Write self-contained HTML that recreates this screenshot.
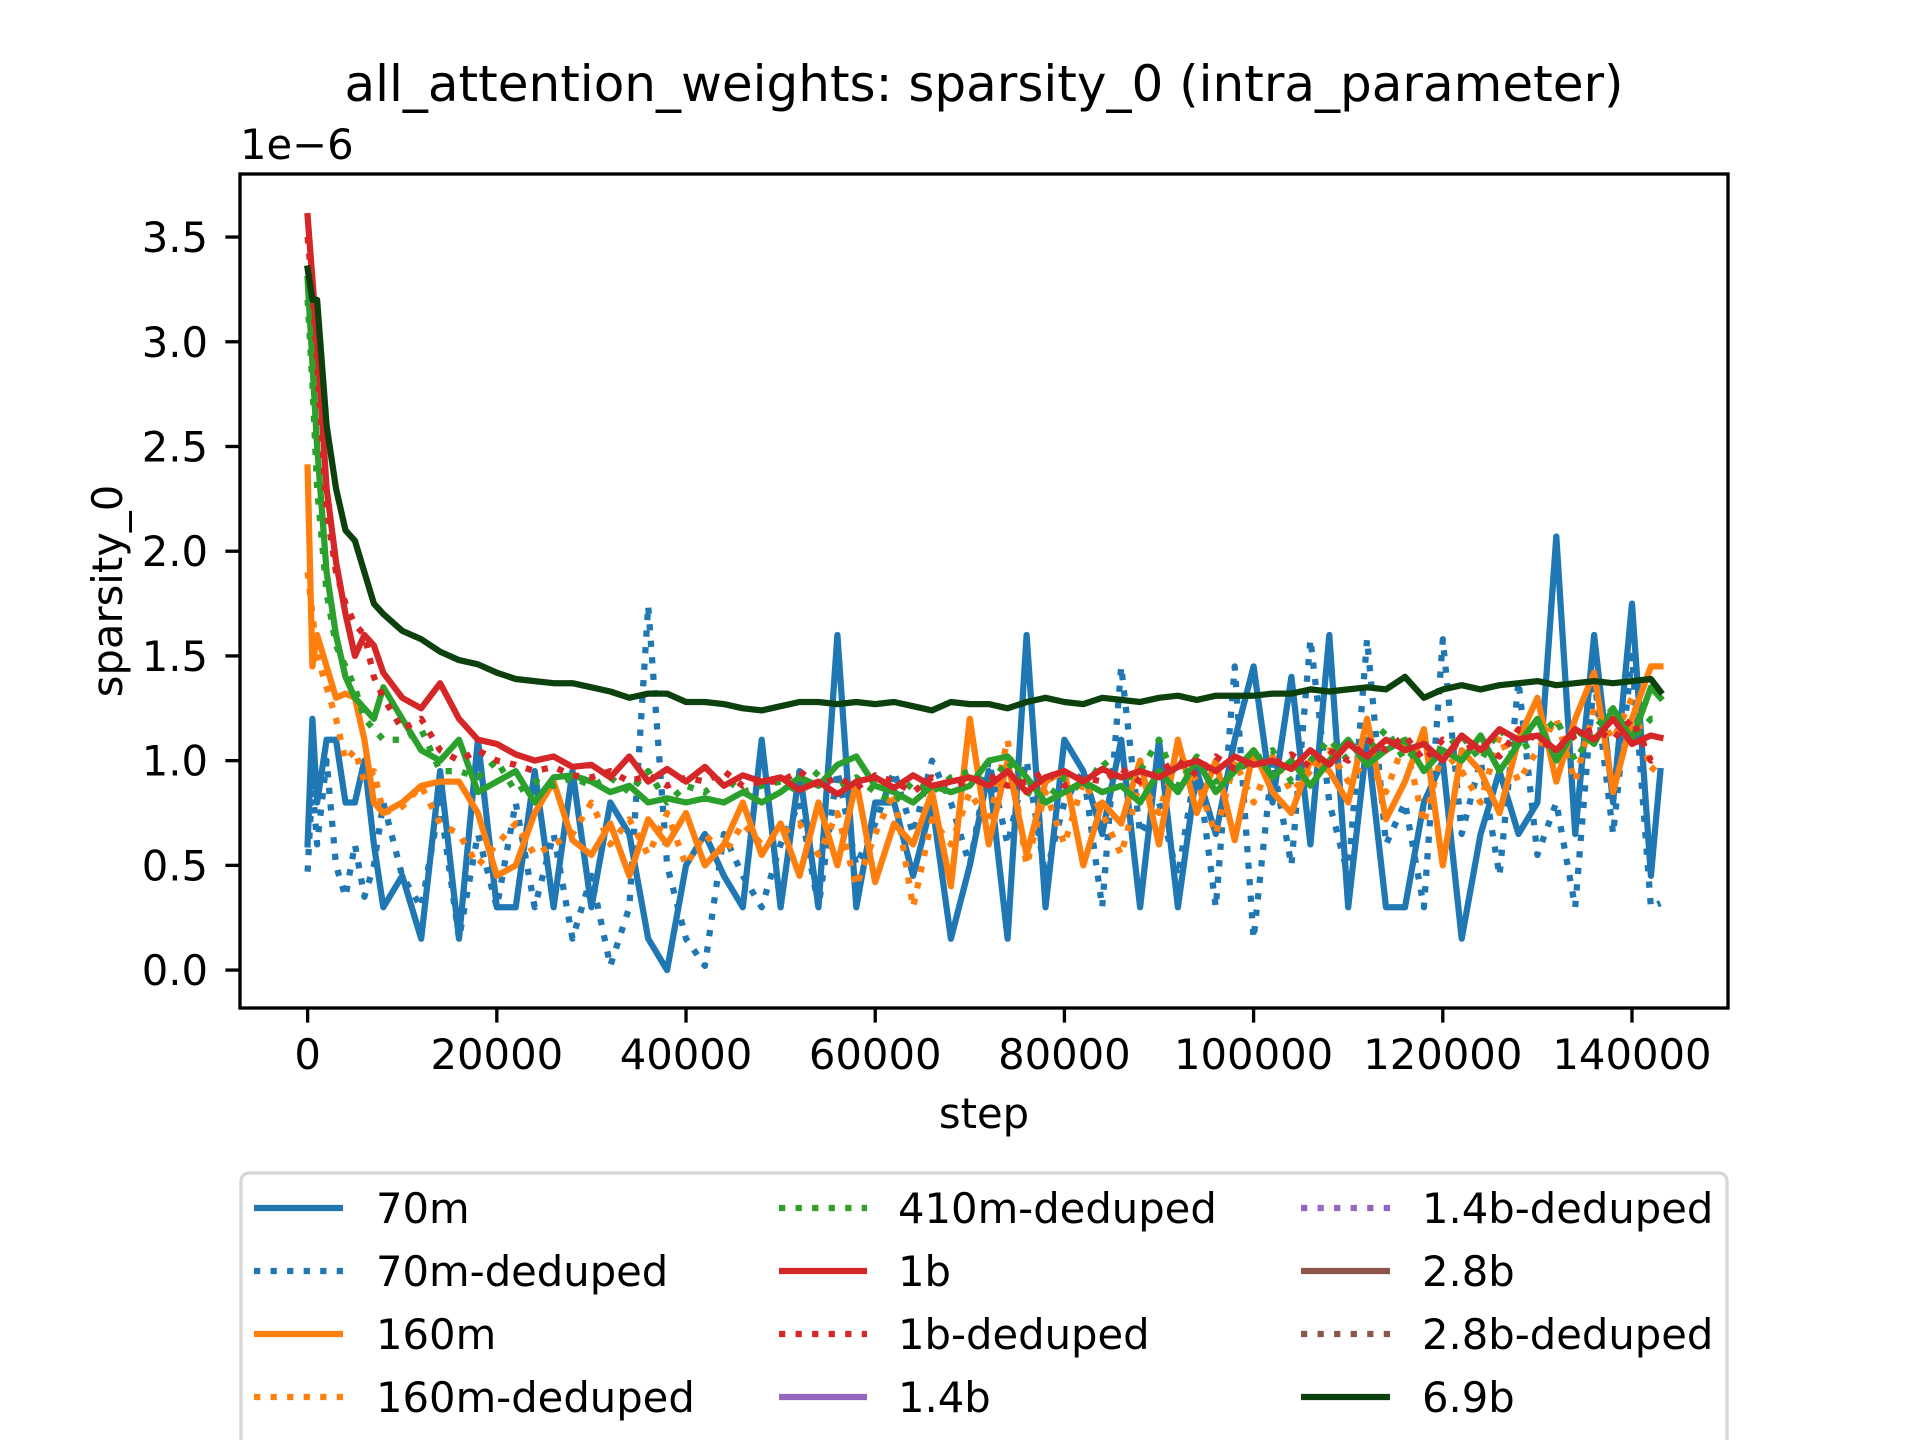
<!DOCTYPE html>
<html><head><meta charset="utf-8">
<style>
html,body{margin:0;padding:0;background:#fff;}
svg{display:block;}
text{font-family:"DejaVu Sans","Liberation Sans",sans-serif;fill:#000;}
</style></head>
<body>
<svg id="chart" width="1920" height="1440" viewBox="0 0 1920 1440" xmlns="http://www.w3.org/2000/svg">
<rect x="0" y="0" width="1920" height="1440" fill="#fff"/>
<text x="984" y="101" font-size="50" text-anchor="middle">all_attention_weights: sparsity_0 (intra_parameter)</text>
<text x="240" y="159" font-size="41.7">1e−6</text>
<g id="plot"></g>
<g id="axes"></g>
<text x="984" y="1128" font-size="41.7" text-anchor="middle">step</text>
<text transform="translate(122,591) rotate(-90)" font-size="41.7" text-anchor="middle">sparsity_0</text>
<g id="legend"></g>
</svg>
<script>
// ---- data ----
const steps = [0,500,1000,2000,3000,4000,5000,6000,7000,8000,
10000,12000,14000,16000,18000,20000,22000,24000,26000,28000,
30000,32000,34000,36000,38000,40000,42000,44000,46000,48000,
50000,52000,54000,56000,58000,60000,62000,64000,66000,68000,
70000,72000,74000,76000,78000,80000,82000,84000,86000,88000,
90000,92000,94000,96000,98000,100000,102000,104000,106000,108000,
110000,112000,114000,116000,118000,120000,122000,124000,126000,128000,
130000,132000,134000,136000,138000,140000,142000,143000];

const v70m = [0.6,1.2,0.8,1.1,1.1,0.8,0.8,1.0,0.6,0.3,
0.45,0.15,0.95,0.15,1.1,0.3,0.3,0.95,0.3,0.95,
0.3,0.8,0.65,0.15,0.0,0.5,0.65,0.45,0.3,1.1,
0.3,0.95,0.3,1.6,0.3,0.8,0.8,0.45,0.8,0.15,
0.5,0.95,0.15,1.6,0.3,1.1,0.95,0.65,1.1,0.3,
1.1,0.3,0.95,0.65,1.1,1.45,0.8,1.4,0.6,1.6,
0.3,1.1,0.3,0.3,0.8,1.0,0.15,0.65,0.95,0.65,
0.8,2.07,0.65,1.6,0.8,1.75,0.45,0.95];
const v70mDeduped = [0.47,0.9,0.6,1.0,0.5,0.35,0.6,0.35,0.5,0.8,
0.45,0.3,0.8,0.15,0.65,0.3,0.8,0.3,0.65,0.15,
0.45,0.02,0.3,1.74,0.5,0.15,0.02,0.65,0.45,0.3,
0.6,0.8,0.3,0.95,0.5,0.7,0.95,0.65,1.0,0.8,
0.5,1.0,0.6,1.0,0.45,0.8,0.95,0.3,1.45,0.65,
0.8,0.45,1.0,0.3,1.45,0.15,1.0,0.5,1.58,0.8,
0.45,1.58,0.6,0.8,0.3,1.58,0.65,1.0,0.45,1.38,
0.55,0.8,0.3,1.4,0.65,1.5,0.3,0.32];
const v160m = [2.4,1.45,1.6,1.45,1.3,1.32,1.3,1.1,0.8,0.75,
0.8,0.88,0.9,0.9,0.75,0.45,0.5,0.75,0.9,0.62,
0.55,0.7,0.45,0.72,0.6,0.75,0.5,0.6,0.8,0.55,
0.7,0.45,0.8,0.5,0.9,0.42,0.7,0.6,0.85,0.4,
1.2,0.6,1.0,0.55,0.9,0.95,0.5,0.8,0.7,1.0,
0.6,1.1,0.75,1.0,0.62,1.05,0.85,0.75,1.0,0.95,
0.8,1.2,0.72,0.9,1.15,0.5,1.05,0.95,0.75,1.1,
1.3,0.9,1.2,1.42,0.85,1.2,1.45,1.45];
const v160mDeduped = [1.9,1.7,1.5,1.35,1.2,1.0,1.05,0.9,0.95,0.75,
0.78,0.88,0.7,0.65,0.5,0.6,0.7,0.55,0.6,0.65,
0.8,0.6,0.72,0.55,0.75,0.5,0.65,0.55,0.7,0.6,
0.65,0.7,0.55,0.75,0.4,0.65,0.85,0.3,0.72,0.6,
0.85,0.7,1.1,0.5,0.85,0.6,0.9,0.75,0.55,0.9,
0.75,1.05,0.9,0.65,1.0,0.8,1.02,0.85,0.95,1.05,
0.9,1.0,0.85,1.1,0.7,1.05,0.95,0.8,1.12,0.9,
1.05,1.2,0.9,1.25,1.1,1.3,0.95,1.0];
const v410m = [3.3,2.9,2.5,1.9,1.6,1.4,1.3,1.25,1.2,1.35,
1.2,1.05,1.0,1.1,0.85,0.9,0.95,0.8,0.92,0.93,
0.9,0.85,0.88,0.8,0.82,0.8,0.82,0.8,0.85,0.8,
0.85,0.92,0.88,0.98,1.02,0.88,0.85,0.8,0.88,0.85,
0.88,1.0,1.02,0.92,0.8,0.85,0.9,0.85,0.88,0.8,
0.95,0.85,1.0,0.85,0.95,1.05,0.92,1.0,0.88,1.0,
1.1,0.98,1.05,1.1,0.95,1.05,1.0,1.12,0.95,1.08,
1.2,1.0,1.15,1.08,1.25,1.1,1.35,1.3];
const v410mDeduped = [3.2,2.8,2.3,1.8,1.55,1.45,1.35,1.2,1.15,1.1,
1.1,1.15,0.95,0.95,0.92,1.0,0.85,0.9,0.88,0.92,
0.88,0.92,0.85,0.95,0.8,0.88,0.85,0.92,0.85,0.88,
0.9,0.85,0.95,0.88,0.92,0.85,0.8,0.9,0.85,0.92,
0.95,0.88,1.0,0.85,0.8,0.92,0.85,1.0,0.9,0.95,
1.1,0.88,1.02,0.9,0.95,1.0,1.05,0.9,1.0,1.1,
1.0,1.05,1.15,1.0,1.08,1.05,1.12,1.0,1.15,1.05,
1.1,1.2,1.0,1.15,1.25,1.1,1.2,1.2];
const v1b = [3.6,3.3,3.0,2.3,1.95,1.7,1.5,1.6,1.55,1.42,
1.3,1.25,1.37,1.2,1.1,1.08,1.03,1.0,1.02,0.97,
0.98,0.92,1.02,0.9,0.96,0.9,0.97,0.88,0.93,0.9,
0.92,0.86,0.9,0.84,0.9,0.92,0.87,0.93,0.88,0.9,
0.92,0.88,0.95,0.85,0.92,0.95,0.9,0.96,0.92,0.95,
0.92,0.97,1.0,0.95,1.02,0.98,1.0,0.96,1.05,0.98,
1.08,1.02,1.1,1.05,1.08,1.0,1.12,1.05,1.15,1.1,
1.12,1.05,1.15,1.1,1.2,1.08,1.12,1.11];
const v1bDeduped = [3.5,3.25,2.9,2.2,1.9,1.75,1.65,1.6,1.4,1.3,
1.15,1.2,1.05,1.0,1.05,1.0,0.98,0.95,0.97,0.93,
0.92,0.95,0.9,0.93,0.88,0.92,0.9,0.95,0.88,0.9,
0.9,0.95,0.88,0.92,0.87,0.93,0.9,0.85,0.92,0.88,
0.9,0.93,0.88,0.9,0.95,0.88,0.92,0.9,0.96,0.9,
0.95,1.0,0.93,1.02,0.96,1.0,0.98,1.03,0.97,1.05,
1.0,1.1,1.05,1.12,1.0,1.1,1.05,1.08,1.02,1.15,
1.1,1.05,1.12,1.15,1.1,1.2,1.0,1.02];
const v6_9b = [3.35,3.2,3.2,2.6,2.3,2.1,2.05,1.9,1.75,1.7,
1.62,1.58,1.52,1.48,1.46,1.42,1.39,1.38,1.37,1.37,
1.35,1.33,1.3,1.32,1.32,1.28,1.28,1.27,1.25,1.24,
1.26,1.28,1.28,1.27,1.28,1.27,1.28,1.26,1.24,1.28,
1.27,1.27,1.25,1.28,1.3,1.28,1.27,1.3,1.29,1.28,
1.3,1.31,1.29,1.31,1.31,1.31,1.32,1.32,1.34,1.33,
1.34,1.35,1.34,1.4,1.3,1.34,1.36,1.34,1.36,1.37,
1.38,1.36,1.37,1.38,1.37,1.38,1.39,1.33];

const xTicks = [0,20000,40000,60000,80000,100000,120000,140000];
const xTickLabels = ["0","20000","40000","60000","80000","100000","120000","140000"];
const yTicks = [0,0.5,1.0,1.5,2.0,2.5,3.0,3.5];
const yTickLabels = ["0.0","0.5","1.0","1.5","2.0","2.5","3.0","3.5"];
const legendLabels = ["70m","70m-deduped","160m","160m-deduped","410m-deduped","1b","1b-deduped","1.4b","1.4b-deduped","2.8b","2.8b-deduped","6.9b"];

// ---- axes ----
const L=240,R=1728,T=174,B=1008;
const XMIN=-7150,XMAX=150150,YMIN=-0.181,YMAX=3.801;
function sx(v){return L+(v-XMIN)/(XMAX-XMIN)*(R-L);}
function sy(v){return B-(v-YMIN)/(YMAX-YMIN)*(B-T);}
const NS="http://www.w3.org/2000/svg";
function mk(tag,attrs,parent){const e=document.createElementNS(NS,tag);for(const k in attrs)e.setAttribute(k,attrs[k]);parent.appendChild(e);return e;}

const plot=document.getElementById('plot');
const series=[
 {name:"70m",v:v70m,c:"#1f77b4",d:false},
 {name:"70m-deduped",v:v70mDeduped,c:"#1f77b4",d:true},
 {name:"160m",v:v160m,c:"#ff7f0e",d:false},
 {name:"160m-deduped",v:v160mDeduped,c:"#ff7f0e",d:true},
 {name:"410m",v:v410m,c:"#2ca02c",d:false},
 {name:"410m-deduped",v:v410mDeduped,c:"#2ca02c",d:true},
 {name:"1b",v:v1b,c:"#d62728",d:false},
 {name:"1b-deduped",v:v1bDeduped,c:"#d62728",d:true},
 {name:"6.9b",v:v6_9b,c:"#0c400c",d:false}
];
series.forEach(s=>{
  const n=Math.min(s.v.length,steps.length);
  let p="";
  for(let i=0;i<n;i++){p+=(i?"L":"M")+sx(steps[i]).toFixed(1)+","+sy(s.v[i]).toFixed(1);}
  const path=mk('path',{d:p,fill:"none",stroke:s.c,"stroke-width":6.25,"stroke-linejoin":"round","stroke-linecap":s.d?"butt":"square"},plot);
  if(s.d)path.setAttribute('stroke-dasharray','6.25 10.3');
  
  
});

const axes=document.getElementById('axes');
const frame=mk('rect',{x:L,y:T,width:R-L,height:B-T,fill:"none",stroke:"#000","stroke-width":3.33},axes);


xTicks.forEach((t,i)=>{
  const x=sx(t);
  const tk=mk('line',{x1:x,x2:x,y1:B,y2:B+14.6,stroke:"#000","stroke-width":3.33},axes);
  
  
  const tx=mk('text',{x:x,y:1069,"font-size":41.7,"text-anchor":"middle"},axes);
  tx.textContent=xTickLabels[i];
  
  
});
yTicks.forEach((t,i)=>{
  const y=sy(t);
  const tk=mk('line',{x1:L-14.6,x2:L,y1:y,y2:y,stroke:"#000","stroke-width":3.33},axes);
  
  
  const tx=mk('text',{x:208,y:y+15,"font-size":41.7,"text-anchor":"end"},axes);
  tx.textContent=yTickLabels[i];
  
  
});

// ---- legend ----
const leg=document.getElementById('legend');
const box=mk('rect',{x:241,y:1173,width:1486,height:300,rx:8,fill:"#fff","fill-opacity":0.8,stroke:"#d6d6d6","stroke-width":3.33},leg);


const legColors={"70m":"#1f77b4","70m-deduped":"#1f77b4","160m":"#ff7f0e","160m-deduped":"#ff7f0e","410m-deduped":"#2ca02c","1b":"#d62728","1b-deduped":"#d62728","1.4b":"#9467bd","1.4b-deduped":"#9467bd","2.8b":"#8c564b","2.8b-deduped":"#8c564b","6.9b":"#0c400c"};
const colX=[[254,343,376],[779,867,898],[1301,1390,1422]];
legendLabels.forEach((lab,i)=>{
  const col=Math.floor(i/4),row=i%4;
  const y=1208+row*63;
  const g=mk('g',{},leg);
  
  
  const ln=mk('line',{x1:colX[col][0],x2:colX[col][1],y1:y,y2:y,stroke:legColors[lab],"stroke-width":6.25},g);
  if(lab.indexOf('deduped')>=0)ln.setAttribute('stroke-dasharray','6.25 10.3');
  
  
  const tx=mk('text',{x:colX[col][2],y:y+15,"font-size":41.7},g);
  tx.textContent=lab;
  
  
});
</script>
</body></html>
